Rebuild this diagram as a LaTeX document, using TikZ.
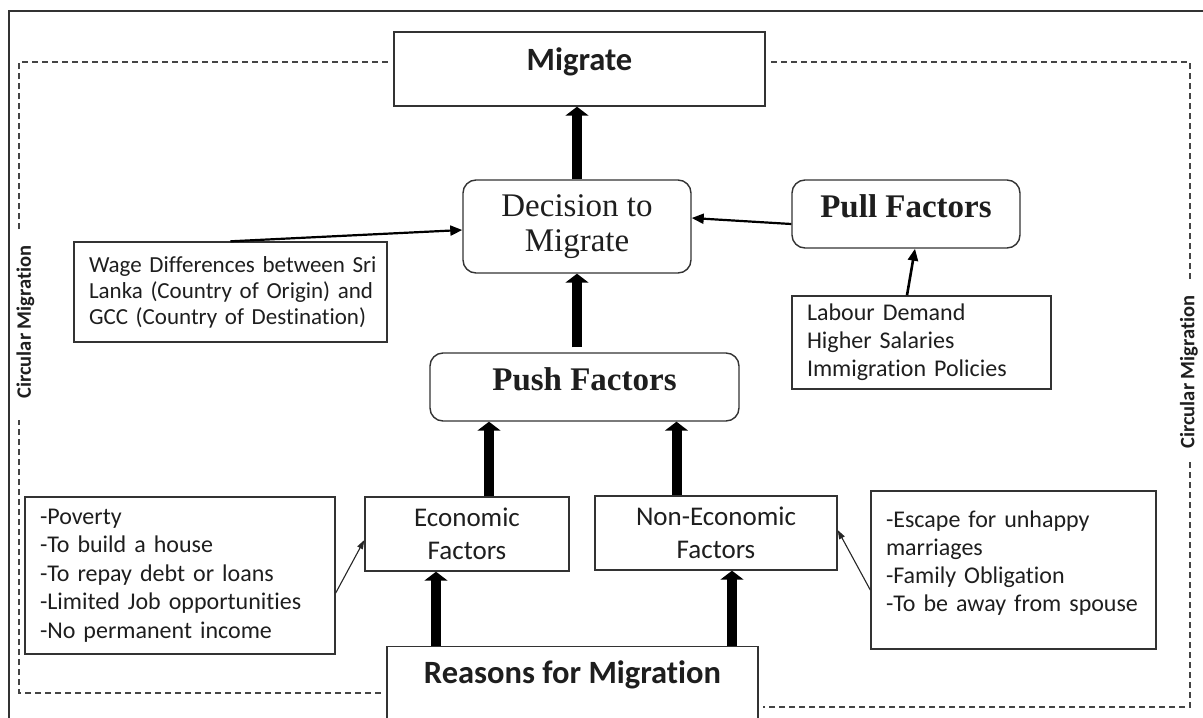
\documentclass[tikz,border=0pt]{standalone}
\usepackage{fontspec}
\setmainfont{Liberation Serif}
\newfontfamily\calfont[Ligatures={NoCommon}]{Carlito}
\usetikzlibrary{arrows.meta,calc}
\definecolor{linegray}{HTML}{333333}
\definecolor{dashgray}{HTML}{444444}
\definecolor{textgray}{HTML}{1E1E1E}

\begin{document}
\begin{tikzpicture}[x=1pt,y=-1pt,
  box/.style={draw=linegray, line width=1.4pt, rectangle, inner sep=0pt, text=textgray},
  roundbox/.style={box, rounded corners=13pt},
  listbox/.style={box, align=left, inner xsep=15pt, inner ysep=0pt},
  sidelabel/.style={font=\calfont\bfseries\fontsize{20.5}{24}\selectfont, rotate=90, text=textgray, inner sep=0pt},
  dashframe/.style={draw=dashgray, line width=1.3pt, dash pattern=on 6pt off 4pt},
  fatarrow/.style={draw=black, line width=10pt, -{Triangle[length=9pt,width=23pt]}},
  thinarrow/.style={draw=black, line width=2.2pt, -{Triangle[length=12pt,width=10pt]}},
  midarrow/.style={draw=black, line width=2.6pt, -{Triangle[length=12pt,width=10pt]}},
  finearrow/.style={draw=black!85, line width=1.1pt, -{Triangle[length=9pt,width=6pt]}}
]
\useasboundingbox (0,0) rectangle (1203,718);
\clip (0,0) rectangle (1203,718);

% outer frame
\draw[linegray, line width=1.5pt] (9,11) rectangle (1215,730);

% main boxes
\node[box, font=\calfont\bfseries\fontsize{32.5}{38}\selectfont, minimum width=371pt,
      text height=38pt, text depth=36pt] (migrate) at (579.5,69) {Migrate};

\node[roundbox, font=\fontsize{33}{35}\selectfont, align=center,
      minimum width=228pt, minimum height=93pt] (decision) at (577,226.5) {Decision to\\Migrate};

\node[roundbox, font=\bfseries\fontsize{33}{38}\selectfont, minimum width=228pt,
      text height=37pt, text depth=31pt] (pull) at (906,214) {Pull Factors};

\node[roundbox, font=\bfseries\fontsize{33}{38}\selectfont, minimum width=309pt,
      text height=37pt, text depth=31pt] (push) at (584.5,387) {Push Factors};

\node[listbox, font=\calfont\fontsize{23}{26}\selectfont, text width=283pt,
      minimum height=100pt] (wage) at (230.5,292)
  {\mbox{Wage Differences between Sri}\\\mbox{Lanka (Country of Origin) and}\\\mbox{GCC (Country of Destination)}};

\node[listbox, font=\calfont\fontsize{24}{28}\selectfont, text width=229pt,
      minimum height=93pt] (labour) at (921.5,342.5)
  {Labour Demand\\Higher Salaries\\Immigration Policies};

\node[box, font=\calfont\fontsize{27}{33}\selectfont, align=center,
      minimum width=204pt, minimum height=74pt] (econ) at (467,534) {Economic\\Factors};

\node[box, font=\calfont\fontsize{27}{33}\selectfont, align=center,
      minimum width=242pt, minimum height=74pt] (nonecon) at (716,533) {Non-Economic\\Factors};

\node[listbox, font=\calfont\fontsize{24}{28.5}\selectfont, text width=280pt,
      minimum height=157pt] (poverty) at (180,575.5)
  {-Poverty\\-To build a house\\-To repay debt or loans\\-Limited Job opportunities\\-No permanent income};

\node[listbox, font=\calfont\fontsize{24}{28}\selectfont, text width=255pt,
      minimum height=158pt] (escape) at (1013.5,570)
  {-Escape for unhappy\\marriages\\-Family Obligation\\-To be away from spouse\rule[-18pt]{0pt}{0pt}};

\node[box, font=\calfont\bfseries\fontsize{32.5}{38}\selectfont, minimum width=371pt,
      text height=37pt, text depth=60pt, anchor=north] (reasons) at (572.5,646) {Reasons for Migration};

% circular migration frame
\node[sidelabel] (cmleft) at (25.5,322) {Circular Migration};
\node[sidelabel] (cmright) at (1189,372) {Circular Migration};

\draw[dashframe] (19,229) -- (19,62) -- (388,62);
\draw[dashframe] (771,62) -- (1190,62) -- (1190,282);
\draw[dashframe] (1190,462) -- (1190,707) -- (763,707);
\draw[dashframe] (381,693) -- (19,693) -- (19,420);

% thick flow arrows
\draw[fatarrow] (decision.north) -- (decision.north |- migrate.south);

\coordinate (pd) at (push.north -| decision.south);
\draw[fatarrow] ([yshift=5pt]pd) -- (decision.south);

\coordinate (ep) at ([xshift=22pt]econ.north);
\draw[fatarrow] (ep) -- (ep |- push.south);

\coordinate (np) at ([xshift=-39.5pt]nonecon.north);
\draw[fatarrow] (np) -- (np |- push.south);

\coordinate (re) at ([xshift=-136.5pt]reasons.north);
\draw[fatarrow] (re) -- (re |- econ.south);

\coordinate (rn) at ([xshift=159.5pt]reasons.north);
\draw[fatarrow] (rn) -- (rn |- nonecon.south);

% thin arrows
\draw[thinarrow] (wage.north) -- ([yshift=-3.5pt]decision.west);
\draw[thinarrow] ([yshift=-10pt]pull.west) -- ([yshift=8.5pt]decision.east);
\draw[midarrow] ([xshift=-14.5pt]labour.north) -- ([xshift=9pt]pull.south);
\draw[finearrow] ([yshift=-17.5pt]poverty.east) -- ([yshift=-6pt]econ.west);
\draw[finearrow] ([yshift=-20pt]escape.west) -- ([yshift=3pt]nonecon.east);
\end{tikzpicture}
\end{document}
